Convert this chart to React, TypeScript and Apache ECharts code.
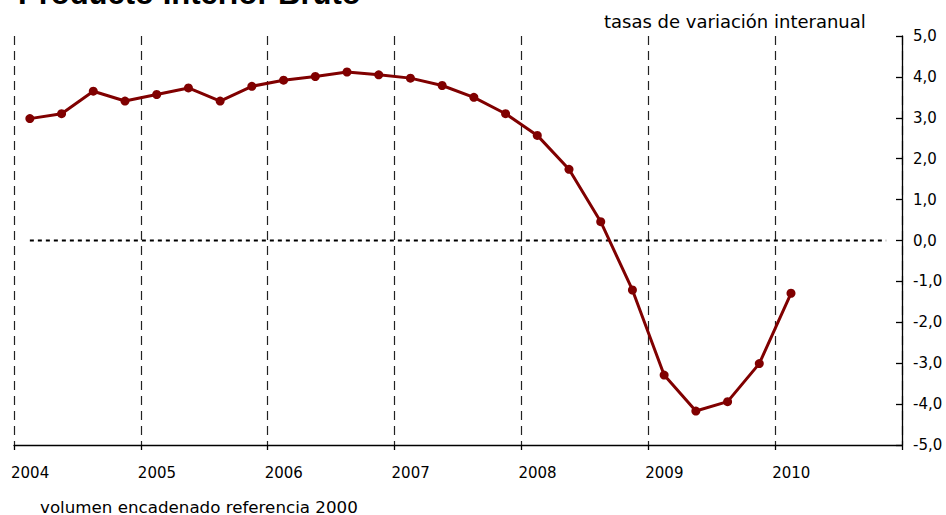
import React, { useEffect, useRef } from "react";
import * as echarts from "echarts";

const years = ["2004", "2005", "2006", "2007", "2008", "2009", "2010"];
const quartersPerYear = 4;
const totalQuarters = 28;
const pib = [
  2.98, 3.1, 3.65, 3.41, 3.57, 3.73, 3.41, 3.77, 3.92, 4.01, 4.12, 4.05, 3.97,
  3.79, 3.5, 3.1, 2.57, 1.74, 0.46, -1.21, -3.29, -4.17, -3.94, -3.01, -1.29,
];
const zeroLine = Array.from({ length: totalQuarters }, () => 0);
const yTicks = [-5, -4, -3, -2, -1, 0, 1, 2, 3, 4, 5];

const title = "Producto Interior Bruto";
const subtitleTop = "tasas de variación interanual";
const subtitleBottom = "volumen encadenado referencia 2000";

const FONT = "DejaVu Sans, Verdana, sans-serif";
const TITLE_FONT = "Liberation Sans, Arial, sans-serif";

export default function App() {
  const ref = useRef<HTMLDivElement>(null);
  useEffect(() => {
    if (!ref.current) return;
    const chart = echarts.init(ref.current, null, { renderer: "svg" });
    chart.setOption({
      animation: false,
      backgroundColor: "#ffffff",
      grid: { left: 14, right: 44, top: 36, height: 409, containLabel: false },
      xAxis: {
        type: "value",
        min: 0,
        max: totalQuarters,
        interval: quartersPerYear,
        axisLine: { show: true, onZero: false, lineStyle: { color: "#000", width: 1.3 } },
        axisTick: { show: true, length: 5, lineStyle: { color: "#000", width: 1.3 } },
        axisLabel: {
          fontFamily: FONT,
          fontSize: 15,
          color: "#000",
          align: "left",
          margin: 20,
          padding: [0, 0, 0, -3],
          formatter: (v: number) => years[Math.round(v / quartersPerYear)] ?? "",
        },
        splitLine: {
          show: true,
          lineStyle: { color: "#222", type: [9, 6], width: 1.2 },
        },
      },
      yAxis: {
        type: "value",
        position: "right",
        min: yTicks[0],
        max: yTicks[yTicks.length - 1],
        interval: 1,
        axisLine: { show: true, onZero: false, lineStyle: { color: "#000", width: 1.3 } },
        axisTick: { show: true, inside: true, length: 6, lineStyle: { color: "#000", width: 1.3 } },
        axisLabel: {
          fontFamily: FONT,
          fontSize: 15,
          color: "#000",
          margin: 11,
          formatter: (v: number) => v.toFixed(1).replace(".", ","),
        },
        splitLine: { show: false },
      },
      series: [
        {
          type: "line",
          data: zeroLine.map((v, i) => [i + 0.5, v]),
          symbol: "none",
          lineStyle: { color: "#000", width: 2, type: [4, 4] },
          z: 1,
        },
        {
          type: "line",
          data: pib.map((v, i) => [i + 0.5, v]),
          symbol: "circle",
          symbolSize: 9,
          itemStyle: { color: "#800000" },
          lineStyle: { color: "#800000", width: 3 },
          z: 3,
        },
      ],
      graphic: [
        {
          type: "text",
          left: 18,
          top: -22,
          style: {
            text: title,
            font: `bold 31px ${TITLE_FONT}`,
            fill: "#000",
          },
        },
        {
          type: "text",
          left: 604,
          top: 12,
          style: {
            text: subtitleTop,
            font: `18px ${FONT}`,
            fill: "#000",
          },
        },
        {
          type: "text",
          left: 40,
          top: 498,
          style: {
            text: subtitleBottom,
            font: `16.7px ${FONT}`,
            lineHeight: 16,
            fill: "#000",
          },
        },
      ],
    });
    return () => chart.dispose();
  }, []);
  return <div ref={ref} style={{ width: 946, height: 515, position: "absolute", left: 0, top: 0 }} />;
}
